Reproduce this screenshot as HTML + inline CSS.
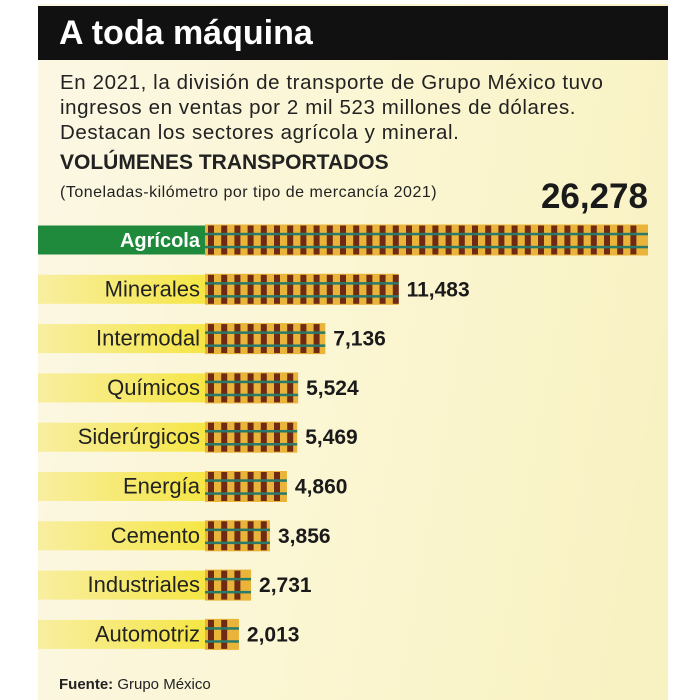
<!DOCTYPE html>
<html><head><meta charset="utf-8">
<style>
body{margin:0;width:698px;height:700px;background:#fff;overflow:hidden;font-family:"Liberation Sans",sans-serif}
#wrap{position:absolute;left:38px;top:4px;width:630px;height:696px;background:linear-gradient(100deg,#fbf7e4 0%,#fbf6d2 50%,#f8f1c0 100%)}
#hdr{position:absolute;left:0;top:2px;width:630px;height:54px;background:#111;color:#fff;font-weight:bold;font-size:34px;line-height:54px;padding-left:21px;box-sizing:border-box}
.t{position:absolute;color:#222;white-space:nowrap}
</style></head><body>
<div id="wrap">
<div id="hdr">A toda máquina</div>
<div class="t" style="left:22px;top:66px;font-size:20.5px;line-height:25px;letter-spacing:0.6px">En 2021, la división de transporte de Grupo México tuvo<br>ingresos en ventas por 2 mil 523 millones de dólares.<br>Destacan los sectores agrícola y mineral.</div>
<div class="t" style="left:22px;top:147px;font-size:21px;font-weight:bold">VOLÚMENES TRANSPORTADOS</div>
<div class="t" style="left:22px;top:180px;font-size:16px;letter-spacing:0.5px">(Toneladas-kilómetro por tipo de mercancía 2021)</div>
<div class="t" style="left:21px;top:672px;font-size:15px"><b>Fuente:</b> Grupo México</div>
</div>
<svg id="chart" width="698" height="700" style="position:absolute;left:0;top:0">
<defs><linearGradient id="yb" x1="0" x2="1" y1="0" y2="0"><stop offset="0" stop-color="#f8eea0"/><stop offset="1" stop-color="#f5e645"/></linearGradient></defs>
</svg>
<script>
const categories=["Agrícola","Minerales","Intermodal","Químicos","Siderúrgicos","Energía","Cemento","Industriales","Automotriz"];
const values=[26278,11483,7136,5524,5469,4860,3856,2731,2013];
const valueLabels=["26,278","11,483","7,136","5,524","5,469","4,860","3,856","2,731","2,013"];
const NS="http://www.w3.org/2000/svg";
const svg=document.getElementById('chart');
const x0=205, maxV=26278, maxW=443;
const xs=v=>x0+v/maxV*maxW;
const yc=i=>240+i*49.3;
const bh=31;
function mk(t,a){const e=document.createElementNS(NS,t);for(const k in a)e.setAttribute(k,a[k]);svg.appendChild(e);return e;}
categories.forEach((c,i)=>{
  const y=yc(i)-bh/2, xe=xs(values[i]);
  const band=mk('rect',{x:38,y:y+1,width:x0-38,height:bh-2,fill:i==0?'#1f8a3b':'url(#yb)'});
  
  
  const bg=mk('rect',{x:x0,y:y,width:xe-x0,height:bh,fill:'#eab43a'});
  
  
  for(let tx=x0+3;tx+5<=xe;tx+=13.2){
    const tie=mk('rect',{x:tx,y:y+1,width:6,height:bh-2,fill:'#6e2a12'});
    
    
  }
  [0.3,0.72].forEach(f=>{
    const r=mk('rect',{x:x0,y:y+bh*f-1,width:xe-x0,height:2.5,fill:'#2a7a6a'});
    
    
  });
  const lab=mk('text',{x:x0-5,y:yc(i)+7,'text-anchor':'end','font-size':i==0?20:22,'font-weight':i==0?'bold':'normal',fill:i==0?'#fff':'#222','font-family':'Liberation Sans, sans-serif'});
  lab.textContent=c;
  
  
  const vl=i==0?mk('text',{x:648,y:208,'text-anchor':'end','font-size':35,'font-weight':'bold',fill:'#1a1a1a','font-family':'Liberation Sans, sans-serif'})
    :mk('text',{x:xe+8,y:yc(i)+7,'font-size':21,'font-weight':'bold',fill:'#1a1a1a','font-family':'Liberation Sans, sans-serif'});
  vl.textContent=valueLabels[i];
  
  
});
</script>
</body></html>
